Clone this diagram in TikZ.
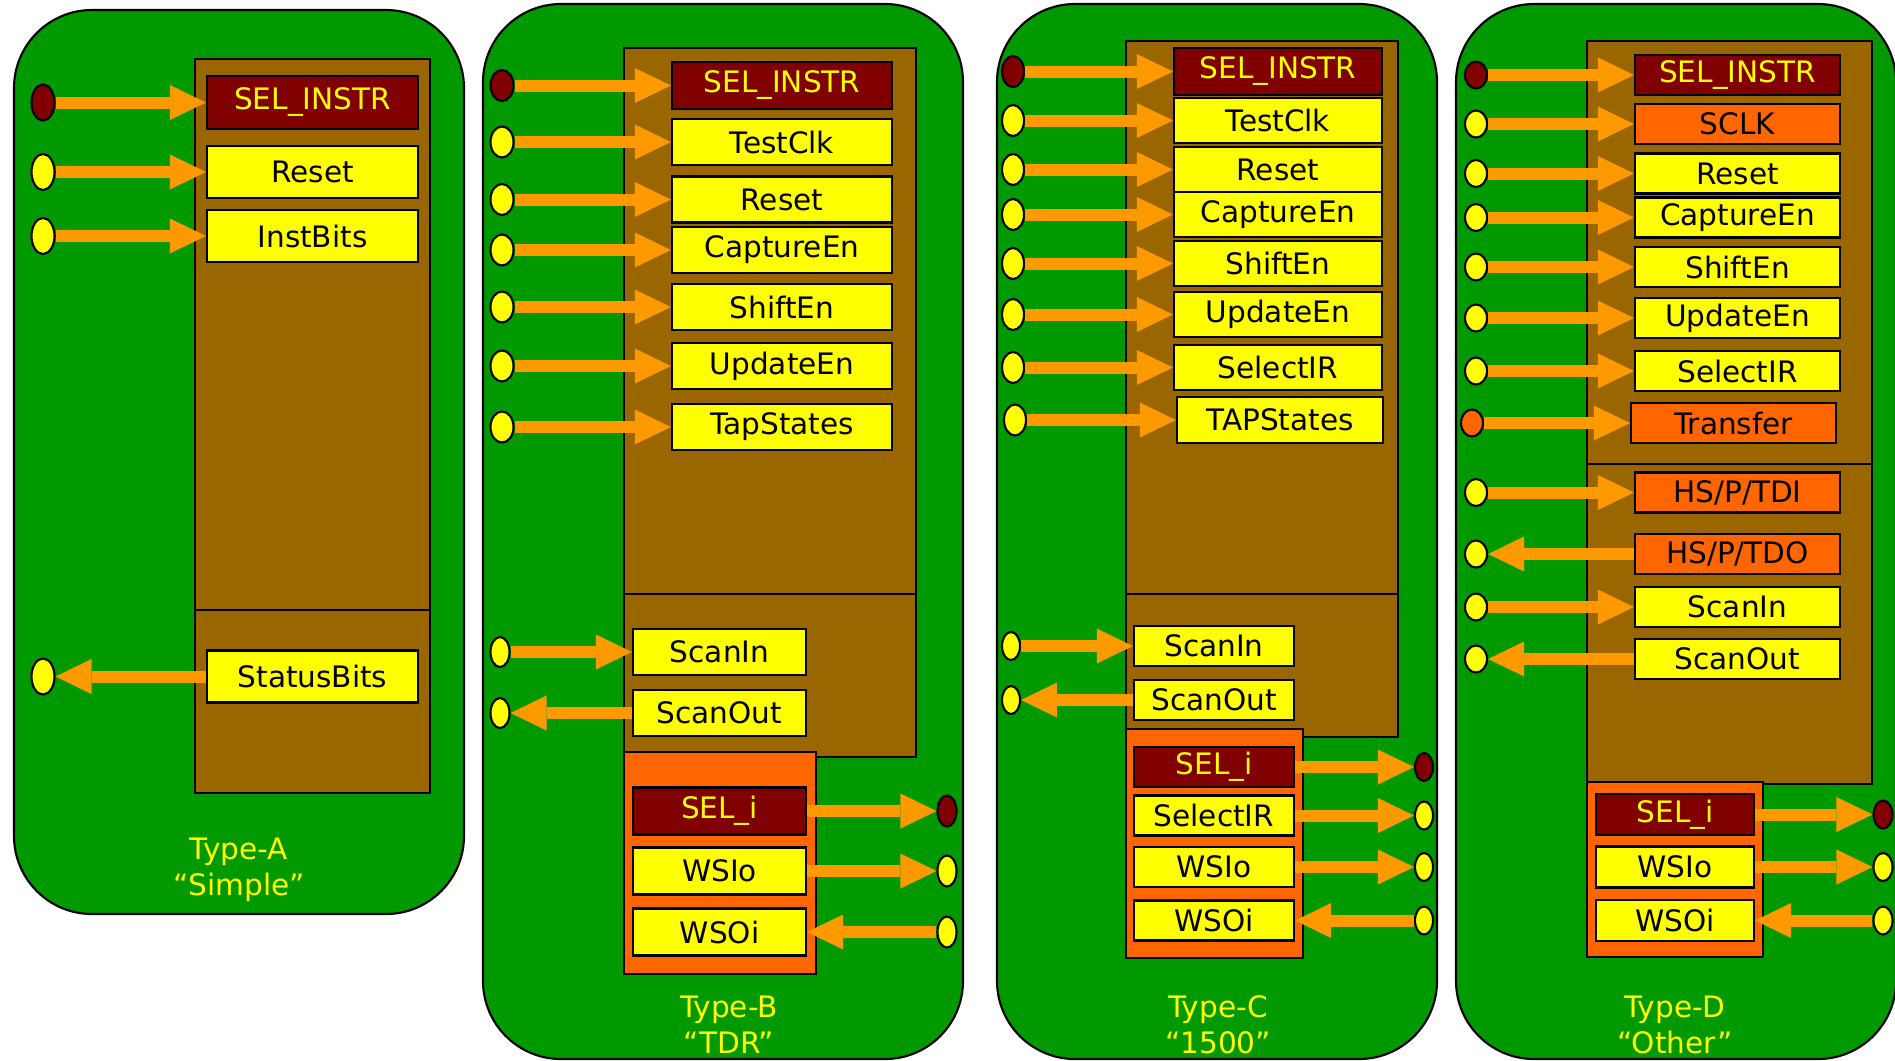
\documentclass[tikz,border=0pt]{standalone}
\usepackage{fontspec}
\setmainfont{DejaVu Sans}
\usetikzlibrary{arrows.meta,shapes.geometric}
\definecolor{tapgreen}{RGB}{0,153,0}
\definecolor{tapbrown}{RGB}{153,102,0}
\definecolor{tapred}{RGB}{128,0,0}
\definecolor{tapyellow}{RGB}{255,255,0}
\definecolor{taporange}{RGB}{255,102,0}
\definecolor{tapamber}{RGB}{255,153,0}

\begin{document}
\begin{tikzpicture}[x=0.01cm,y=-0.01cm,
  every node/.style={font=\fontsize{8.4}{10.2}\selectfont},
  panel/.style={draw,fill=tapgreen,line width=0.6pt,rounded corners=0.78cm},
  block/.style={draw,fill=tapbrown,line width=0.6pt},
  wrap/.style={draw,fill=taporange,line width=0.6pt},
  reg/.style={draw,fill=tapyellow,line width=0.6pt,inner sep=0pt,minimum height=0.46cm},
  sel/.style={reg,fill=tapred,text=tapyellow},
  hot/.style={reg,fill=taporange},
  pin/.style={ellipse,draw,fill=tapyellow,line width=0.6pt,inner sep=0pt,minimum width=0.22cm,minimum height=0.3cm},
  sig/.style={draw=tapamber,line width=0.12cm,-{Triangle[length=0.36cm,width=0.35cm,line width=0pt]}},
  tag/.style={text=tapyellow,align=center}]
\useasboundingbox (0,0) rectangle (1895,1060);

% Type-A
\draw[panel] (14,10) rectangle (464,914);
\draw[block] (195,59) rectangle (430,793);
\draw[line width=0.6pt] (195,610) -- (430,610);
\node[sel,minimum width=2.11cm,minimum height=0.53cm] (aSel) at (312.5,102.5) {SEL\_INSTR};
\node[pin,fill=tapred,minimum width=0.23cm,minimum height=0.36cm] (aSelPin) at (43,102.5) {};
\draw[sig] (aSelPin) -- (aSel);
\foreach \n/\y/\t in {1/172/Reset,2/236/InstBits}{
  \node[reg,minimum width=2.11cm,minimum height=0.52cm] (a\n) at (312.5,\y) {\t};
  \node[pin,minimum width=0.23cm,minimum height=0.36cm] (aPin\n) at (43,\y) {};
  \draw[sig] (aPin\n) -- (a\n);
}
\node[reg,minimum width=2.11cm,minimum height=0.52cm] (aStatus) at (312.5,676.5) {StatusBits};
\node[pin,minimum width=0.23cm,minimum height=0.36cm] (aStatusPin) at (43,676.5) {};
\draw[sig] (aStatus) -- (aStatusPin);
\node[tag] (aTag) at (239,870) {Type-A\\“Simple”};

% Type-B
\draw[panel] (483,4) rectangle (963,1059);
\draw[block] (624,48) rectangle (916,757);
\draw[line width=0.6pt] (624,594) -- (916,594);
\draw[wrap] (624,752) rectangle (816,974);
\node[sel,minimum width=2.2cm,minimum height=0.47cm] (bSel) at (782,85.5) {SEL\_INSTR};
\node[pin,fill=tapred,minimum width=0.23cm,minimum height=0.31cm] (bSelPin) at (502,85.5) {};
\draw[sig] (bSelPin) -- (bSel);
\foreach \n/\y/\t in {1/142/TestClk,2/199.5/Reset,3/250/CaptureEn,4/307/ShiftEn,5/366/UpdateEn,6/427/TapStates}{
  \node[reg,minimum width=2.2cm] (b\n) at (782,\y) {\t};
  \node[pin,minimum width=0.23cm,minimum height=0.31cm] (bPin\n) at (502,\y) {};
  \draw[sig] (bPin\n) -- (b\n);
}
\node[reg,minimum width=1.73cm] (bScanIn) at (719.5,652) {ScanIn};
\node[reg,minimum width=1.73cm] (bScanOut) at (719.5,713) {ScanOut};
\node[pin,minimum width=0.19cm] (bInPin) at (500,652) {};
\node[pin,minimum width=0.19cm] (bOutPin) at (500,713) {};
\draw[sig] (bInPin) -- (bScanIn);
\draw[sig] (bScanOut) -- (bOutPin);
\node[sel,minimum width=1.73cm,minimum height=0.47cm] (bSeli) at (719.5,811) {SEL\_i};
\node[reg,minimum width=1.73cm,minimum height=0.47cm] (bWsio) at (719.5,871) {WSIo};
\node[reg,minimum width=1.73cm,minimum height=0.47cm] (bWsoi) at (719.5,932) {WSOi};
\node[pin,fill=tapred,minimum width=0.19cm,minimum height=0.31cm] (bSeliPin) at (947,811) {};
\node[pin,minimum width=0.19cm,minimum height=0.31cm] (bWsioPin) at (947,871) {};
\node[pin,minimum width=0.19cm,minimum height=0.31cm] (bWsoiPin) at (947,932) {};
\draw[sig] (bSeli) -- (bSeliPin);
\draw[sig] (bWsio) -- (bWsioPin);
\draw[sig] (bWsoiPin) -- (bWsoi);
\node[tag] (bTag) at (729,1025) {Type-B\\“TDR”};

% Type-C
\draw[panel] (997,4) rectangle (1437,1059);
\draw[block] (1126,41) rectangle (1398,737);
\draw[line width=0.6pt] (1126,594) -- (1398,594);
\draw[wrap] (1126,729) rectangle (1303,958);
\node[sel,minimum width=2.08cm,minimum height=0.47cm] (cSel) at (1278,71.5) {SEL\_INSTR};
\node[pin,fill=tapred,minimum width=0.22cm,minimum height=0.31cm] (cSelPin) at (1013,71.5) {};
\draw[sig] (cSelPin) -- (cSel);
\foreach \n/\y/\t in {1/120.5/TestClk,2/169.5/Reset,3/214.5/CaptureEn,4/263.5/ShiftEn,5/314.5/UpdateEn,6/367.5/SelectIR}{
  \node[reg,minimum width=2.08cm,minimum height=0.45cm] (c\n) at (1278,\y) {\t};
  \node[pin,minimum width=0.22cm,minimum height=0.31cm] (cPin\n) at (1013,\y) {};
  \draw[sig] (cPin\n) -- (c\n);
}
\node[reg,minimum width=2.06cm] (cTap) at (1280,420) {TAPStates};
\node[pin,minimum width=0.22cm,minimum height=0.31cm] (cTapPin) at (1015,420) {};
\draw[sig] (cTapPin) -- (cTap);
\node[reg,minimum width=1.6cm,minimum height=0.4cm] (cScanIn) at (1214,646) {ScanIn};
\node[reg,minimum width=1.6cm,minimum height=0.4cm] (cScanOut) at (1214,700) {ScanOut};
\node[pin,minimum width=0.18cm,minimum height=0.28cm] (cInPin) at (1011,646) {};
\node[pin,minimum width=0.18cm,minimum height=0.28cm] (cOutPin) at (1011,700) {};
\draw[sig] (cInPin) -- (cScanIn);
\draw[sig] (cScanOut) -- (cOutPin);
\node[sel,minimum width=1.6cm,minimum height=0.4cm] (cSeli) at (1214,767) {SEL\_i};
\node[pin,fill=tapred,minimum width=0.18cm,minimum height=0.28cm] (cSeliPin) at (1424,767) {};
\draw[sig] (cSeli) -- (cSeliPin);
\foreach \n/\y/\t in {7/815.5/SelectIR,8/867/WSIo}{
  \node[reg,minimum width=1.6cm,minimum height=0.4cm] (c\n) at (1214,\y) {\t};
  \node[pin,minimum width=0.18cm,minimum height=0.28cm] (cPin\n) at (1424,\y) {};
  \draw[sig] (c\n) -- (cPin\n);
}
\node[reg,minimum width=1.6cm,minimum height=0.4cm] (cWsoi) at (1214,920.5) {WSOi};
\node[pin,minimum width=0.18cm,minimum height=0.28cm] (cWsoiPin) at (1424,920.5) {};
\draw[sig] (cWsoiPin) -- (cWsoi);
\node[tag] (cTag) at (1218,1025) {Type-C\\“1500”};

% Type-D
\draw[panel] (1456,4) rectangle (1896,1059);
\draw[block] (1587,41) rectangle (1872,784);
\draw[line width=0.6pt] (1587,464) -- (1872,464);
\draw[wrap] (1587,782) rectangle (1763,957);
\node[sel,minimum width=2.05cm,minimum height=0.4cm] (dSel) at (1737.5,75) {SEL\_INSTR};
\node[pin,fill=tapred,minimum width=0.22cm,minimum height=0.27cm] (dSelPin) at (1476,75) {};
\draw[sig] (dSelPin) -- (dSel);
\foreach \n/\y/\s/\t in {1/124/hot/SCLK,2/173.5/reg/Reset,3/217.5/reg/CaptureEn,4/267/reg/ShiftEn,5/318/reg/UpdateEn,6/371/reg/SelectIR}{
  \node[\s,minimum width=2.05cm,minimum height=0.4cm] (d\n) at (1737.5,\y) {\t};
  \node[pin,minimum width=0.22cm,minimum height=0.27cm] (dPin\n) at (1476,\y) {};
  \draw[sig] (dPin\n) -- (d\n);
}
\node[hot,minimum width=2.05cm,minimum height=0.4cm] (dXfer) at (1733.5,423) {Transfer};
\node[pin,fill=taporange,minimum width=0.22cm,minimum height=0.27cm] (dXferPin) at (1472,423) {};
\draw[sig] (dXferPin) -- (dXfer);
\node[hot,minimum width=2.05cm,minimum height=0.4cm] (dTdi) at (1737.5,492.5) {HS/P/TDI};
\node[hot,minimum width=2.05cm,minimum height=0.4cm] (dTdo) at (1737.5,554) {HS/P/TDO};
\node[reg,minimum width=2.05cm,minimum height=0.4cm] (dScanIn) at (1737.5,607) {ScanIn};
\node[reg,minimum width=2.05cm,minimum height=0.4cm] (dScanOut) at (1737.5,659) {ScanOut};
\node[pin,minimum width=0.22cm,minimum height=0.27cm] (dTdiPin) at (1476,492.5) {};
\node[pin,minimum width=0.22cm,minimum height=0.27cm] (dTdoPin) at (1476,554) {};
\node[pin,minimum width=0.22cm,minimum height=0.27cm] (dInPin) at (1476,607) {};
\node[pin,minimum width=0.22cm,minimum height=0.27cm] (dOutPin) at (1476,659) {};
\draw[sig] (dTdiPin) -- (dTdi);
\draw[sig] (dTdo) -- (dTdoPin);
\draw[sig] (dInPin) -- (dScanIn);
\draw[sig] (dScanOut) -- (dOutPin);
\node[sel,minimum width=1.58cm,minimum height=0.41cm] (dSeli) at (1675,814.5) {SEL\_i};
\node[reg,minimum width=1.58cm,minimum height=0.41cm] (dWsio) at (1675,867) {WSIo};
\node[reg,minimum width=1.58cm,minimum height=0.41cm] (dWsoi) at (1675,920.5) {WSOi};
\node[pin,fill=tapred,minimum width=0.19cm,minimum height=0.28cm] (dSeliPin) at (1883,814.5) {};
\node[pin,minimum width=0.19cm,minimum height=0.28cm] (dWsioPin) at (1883,867) {};
\node[pin,minimum width=0.19cm,minimum height=0.28cm] (dWsoiPin) at (1883,920.5) {};
\draw[sig] (dSeli) -- (dSeliPin);
\draw[sig] (dWsio) -- (dWsioPin);
\draw[sig] (dWsoiPin) -- (dWsoi);
\node[tag] (dTag) at (1675,1025) {Type-D\\“Other”};
\end{tikzpicture}
\end{document}
